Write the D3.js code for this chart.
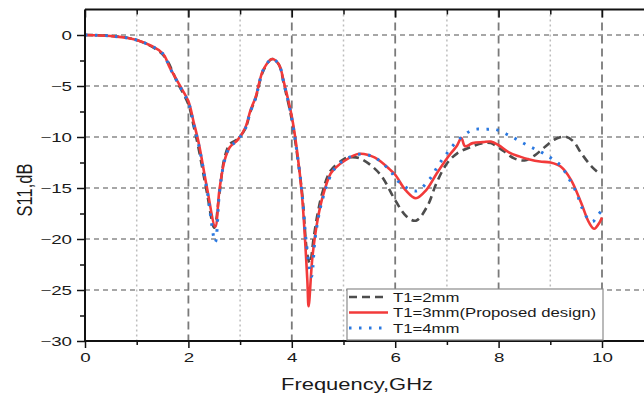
<!DOCTYPE html>
<html><head><meta charset="utf-8">
<script src="https://cdn.jsdelivr.net/npm/d3@7"></script>
<style>body{margin:0;background:#fff}svg{display:block}</style>
</head><body><svg id="c" width="644" height="396"></svg>
<script>
// ---- data (frequency in GHz, S11 in dB) ----
const freqT2 = [0,0.5,1,1.5,1.8,2,2.1,2.2,2.36,2.5,2.6,2.7,2.8,2.95,3.1,3.2,3.3,3.45,3.62,3.75,3.85,4.0,4.1,4.2,4.3,4.35,4.42,4.5,4.6,4.75,5.0,5.1,5.32,5.7,6.0,6.22,6.4,6.62,6.8,7.0,7.2,7.45,7.7,7.85,8.1,8.3,8.5,8.7,8.9,9.1,9.3,9.45,9.6,9.8,9.98];
const s11T2  = [0,-0.1,-0.5,-1.9,-4.8,-6.8,-8.9,-11.2,-15.5,-18.9,-15.5,-12.0,-10.7,-10.2,-9.2,-7.5,-6.2,-3.5,-2.35,-2.9,-4.9,-8.3,-11.6,-15.5,-21.5,-22.4,-20.0,-17.5,-15.3,-13.3,-12.2,-12.0,-12.1,-13.6,-16.2,-17.8,-18.2,-16.8,-14.5,-12.6,-11.6,-11.0,-10.6,-10.6,-11.4,-12.1,-12.3,-11.8,-10.95,-10.2,-9.97,-10.45,-11.6,-12.9,-13.7];

const freqT3 = [0,0.5,1,1.5,1.64,1.84,2.0,2.1,2.2,2.36,2.52,2.6,2.7,2.8,2.95,3.1,3.2,3.3,3.45,3.62,3.75,3.85,4.0,4.1,4.2,4.3,4.325,4.4,4.5,4.6,4.75,4.85,5.0,5.3,5.6,5.9,6.0,6.2,6.4,6.6,6.8,7.0,7.2,7.28,7.35,7.5,7.7,7.85,8.0,8.2,8.4,8.6,8.8,9.0,9.2,9.4,9.6,9.75,9.85,9.95,10.0];
const s11T3  = [0,-0.1,-0.5,-1.8,-3.2,-5.0,-6.5,-8.5,-10.6,-15.0,-18.8,-15.2,-12.3,-11.0,-10.3,-9.1,-7.4,-6.1,-3.4,-2.35,-2.9,-4.7,-8.0,-11.3,-15.9,-24.0,-26.6,-21.7,-18.1,-15.8,-13.6,-13.0,-12.4,-11.65,-12.0,-13.2,-13.7,-15.2,-16.0,-15.2,-13.6,-12.1,-10.8,-10.1,-10.9,-10.6,-10.5,-10.45,-10.8,-11.5,-11.9,-12.2,-12.4,-12.5,-12.9,-14.2,-16.5,-18.4,-19.0,-18.4,-17.9];

const freqT4 = [0,0.5,1,1.5,1.64,1.84,2.0,2.1,2.2,2.36,2.52,2.6,2.7,2.8,2.95,3.1,3.2,3.3,3.45,3.62,3.75,3.85,4.0,4.1,4.2,4.28,4.38,4.45,4.55,4.65,4.8,5.0,5.3,5.6,5.9,6.07,6.4,6.67,6.83,7.0,7.2,7.5,7.75,7.93,8.25,8.57,8.9,9.19,9.35,9.51,9.6,9.74,9.82,9.93,10.0];
const s11T4  = [0,-0.1,-0.5,-1.8,-3.2,-5.1,-6.6,-8.7,-10.8,-15.2,-20.3,-15.5,-12.3,-11.0,-10.3,-9.2,-7.5,-6.2,-3.4,-2.35,-2.9,-4.8,-8.2,-11.5,-15.6,-20.3,-23.7,-20.0,-17.0,-15.2,-13.3,-12.3,-11.7,-12.0,-13.3,-14.4,-15.3,-14.1,-12.8,-11.6,-10.4,-9.3,-9.25,-9.25,-9.97,-10.85,-11.7,-12.75,-14.0,-15.5,-16.8,-18.1,-18.3,-17.6,-17.2];

const xTicks = [0,2,4,6,8,10];
const xMinorTicks = [1,3,5,7,9];
const yTicks = [0,-5,-10,-15,-20,-25,-30];
const yMinorTicks = [-2.5,-7.5,-12.5,-17.5,-22.5,-27.5];
const hGrid = [0,-5,-10,-15,-20,-25];
const legendLabels = ["T1=2mm","T1=3mm(Proposed design)","T1=4mm"];
const xTitle = "Frequency,GHz";
const yTitle = "S11,dB";

// ---- layout ----
const W = 644, H = 396;
const L = 85, R = 644, T = 9.5, B = 341;
const x = d3.scaleLinear().domain([0,10]).range([L,602]);
const y = d3.scaleLinear().domain([-30,2.5]).range([B,T]);
const svg = d3.select("#c");
const FONT = "'Liberation Sans', Arial, sans-serif";

// clip
svg.append("defs").append("clipPath").attr("id","pc")
  .append("rect").attr("x",L).attr("y",T).attr("width",R-L).attr("height",B-T);

// grid
const g = svg.append("g").attr("clip-path","url(#pc)");
g.selectAll(".hg").data(hGrid).join("line")
  .attr("x1",L).attr("x2",R).attr("y1",d=>y(d)).attr("y2",d=>y(d))
  .attr("stroke","#8a8a8a").attr("stroke-width",1.3).attr("stroke-dasharray","5,4");
g.selectAll(".vmin").data(xMinorTicks).join("line")
  .attr("x1",d=>x(d)).attr("x2",d=>x(d)).attr("y1",T).attr("y2",B)
  .attr("stroke","#bdbdbd").attr("stroke-width",1.5).attr("stroke-dasharray","2,3");
g.selectAll(".vmaj").data(xTicks.filter(d=>d>0)).join("line")
  .attr("x1",d=>x(d)).attr("x2",d=>x(d)).attr("y1",T).attr("y2",B)
  .attr("stroke","#7a7a7a").attr("stroke-width",1.8).attr("stroke-dasharray","8,5");

// curves
const line = d3.line().curve(d3.curveCatmullRom.alpha(0.5));
const pts = (f,s)=>f.map((v,i)=>[x(v),y(s[i])]);
const series = [
  {f:freqT2,s:s11T2,color:"#4d4d4d",w:2.6,dash:"8,5"},
  {f:freqT3,s:s11T3,color:"#f23a3a",w:2.6,dash:null},
  {f:freqT4,s:s11T4,color:"#2a78e0",w:3,dash:"2.5,7.5"}
];
const cg = svg.append("g").attr("clip-path","url(#pc)");
series.forEach(sr=>{
  cg.append("path").attr("d",line(pts(sr.f,sr.s)))
    .attr("fill","none").attr("stroke",sr.color).attr("stroke-width",sr.w)
    .attr("stroke-dasharray",sr.dash).attr("stroke-linejoin","round");
});

// axes
function styleAxis(a){a.select(".domain").remove();a.selectAll("line").attr("stroke","#111").attr("stroke-width",1.5);}
const SX = 1.5;
const ax = svg.append("g").attr("transform",`translate(0,${B})`)
  .call(d3.axisBottom(x).tickValues(xTicks).tickSize(7).tickPadding(5).tickFormat(d3.format("d")));
styleAxis(ax);
ax.selectAll("text").attr("font-family",FONT).attr("font-size",12.5).attr("fill","#1a1a1a")
  .attr("transform",`scale(${SX},1)`).attr("y",12).attr("dy","0.71em");
const axm = svg.append("g").attr("transform",`translate(0,${B})`)
  .call(d3.axisBottom(x).tickValues(xMinorTicks).tickSize(4).tickFormat(""));
styleAxis(axm);

const ay = svg.append("g").attr("transform",`translate(${L},0)`)
  .call(d3.axisLeft(y).tickValues(yTicks).tickSize(8).tickFormat(d3.format("d")));
styleAxis(ay);
ay.selectAll("text").attr("font-family",FONT).attr("font-size",12.5).attr("fill","#1a1a1a")
  .attr("x",-13/SX).attr("transform",`scale(${SX},1)`);
const aym = svg.append("g").attr("transform",`translate(${L},0)`)
  .call(d3.axisLeft(y).tickValues(yMinorTicks).tickSize(5).tickFormat(""));
styleAxis(aym);

// top ticks (inward)
const at = svg.append("g").attr("transform",`translate(0,${T})`)
  .call(d3.axisBottom(x).tickValues(xTicks).tickSize(8).tickFormat(""));
styleAxis(at);
const atm = svg.append("g").attr("transform",`translate(0,${T})`)
  .call(d3.axisBottom(x).tickValues(xMinorTicks).tickSize(5).tickFormat(""));
styleAxis(atm);

// frame lines
svg.append("line").attr("x1",L).attr("x2",R).attr("y1",B).attr("y2",B).attr("stroke","#111").attr("stroke-width",2);
svg.append("line").attr("x1",L).attr("x2",L).attr("y1",T).attr("y2",B).attr("stroke","#111").attr("stroke-width",2);
svg.append("line").attr("x1",L).attr("x2",R).attr("y1",T).attr("y2",T).attr("stroke","#111").attr("stroke-width",1.8);

// titles
svg.append("text").attr("transform",`translate(357,390) scale(1.33,1)`)
  .attr("text-anchor","middle").attr("font-family",FONT).attr("font-size",16.5).attr("fill","#1a1a1a").text(xTitle);
svg.append("text").attr("transform",`translate(32,190) rotate(-90) scale(1,1.35)`)
  .attr("text-anchor","middle").attr("font-family",FONT).attr("font-size",16.5).attr("fill","#1a1a1a").text(yTitle);

// legend
const lg = svg.append("g");
lg.append("rect").attr("x",347).attr("y",289).attr("width",256).attr("height",51)
  .attr("fill","#fff").attr("stroke","#8c8c8c").attr("stroke-width",1.2);
legendLabels.forEach((lab,i)=>{
  const sr = series[i]; const yy = 297 + i*15.5;
  lg.append("line").attr("x1",349).attr("x2",388).attr("y1",yy).attr("y2",yy)
    .attr("stroke",sr.color).attr("stroke-width",sr.w).attr("stroke-dasharray",sr.dash);
  lg.append("text").attr("transform",`translate(393,${yy}) scale(1.24,1)`)
    .attr("dy","0.36em").attr("font-family",FONT).attr("font-size",13.5).attr("fill","#1a1a1a").text(lab);
});
</script></body></html>
